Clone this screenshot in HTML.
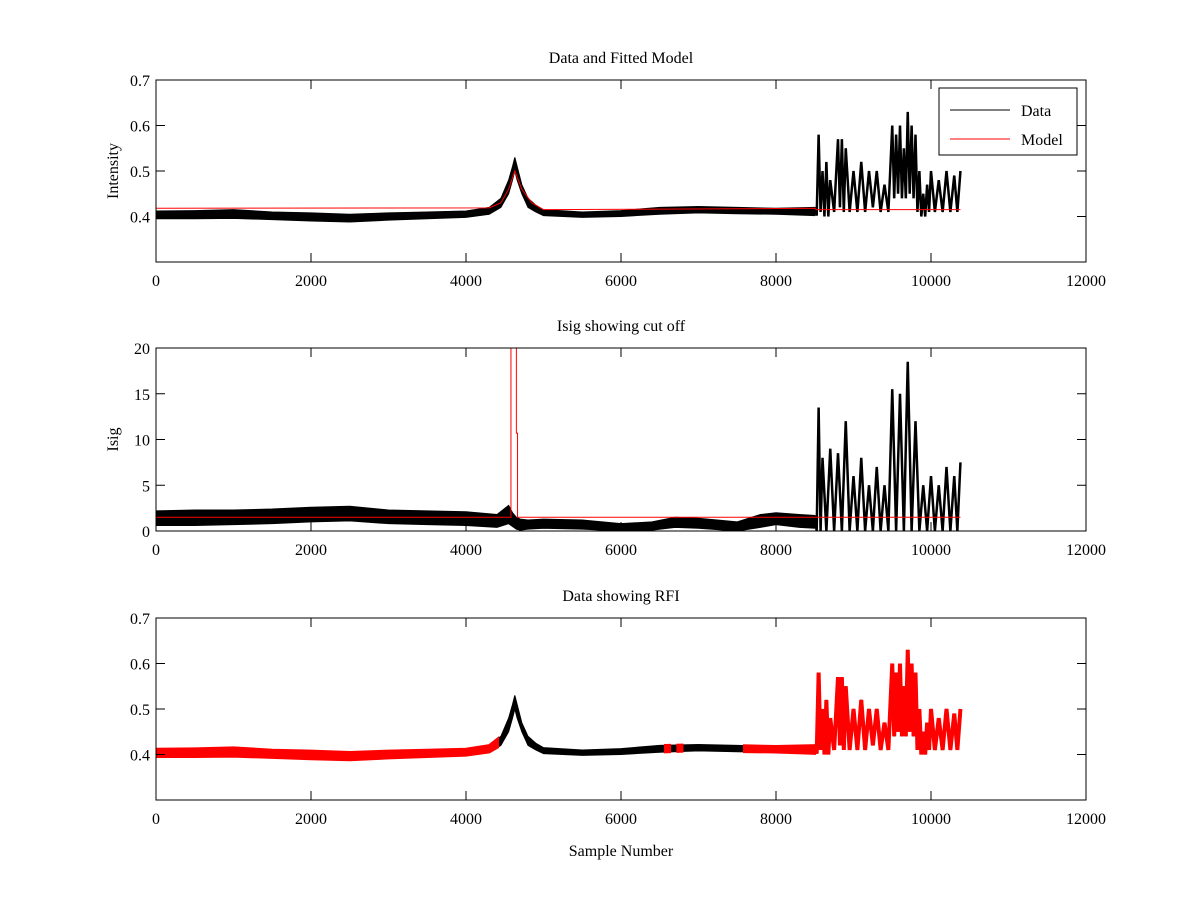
<!DOCTYPE html>
<html><head><meta charset="utf-8"><style>
body{margin:0;background:#fff}
svg{display:block;font-family:"Liberation Serif",serif}
</style></head><body>
<svg id="fig" width="1200" height="900"></svg>
<script>
// ---- data ----
const intensX=[0,500,1000,1500,2000,2500,3000,3500,4000,4300,4450,4550,4600,4630,4660,4720,4800,4900,5000,5500,6000,6500,7000,7500,8000,8500,8550,8600,8650,8700,8800,8850,8900,9000,9100,9200,9300,9400,9500,9550,9600,9650,9700,9750,9800,9850,9900,9950,10000,10100,10200,10300,10380];
const intensHi=[.412,.413,.415,.41,.408,.405,.408,.41,.412,.42,.44,.48,.51,.53,.51,.47,.44,.425,.415,.41,.413,.42,.422,.42,.418,.42,.58,.5,.52,.48,.57,.57,.55,.5,.52,.5,.5,.47,.6,.58,.6,.55,.63,.6,.58,.5,.45,.47,.5,.48,.5,.49,.5];
const intensLo=[.395,.395,.396,.393,.39,.388,.392,.395,.398,.405,.42,.45,.48,.5,.48,.45,.42,.41,.402,.398,.4,.405,.408,.406,.405,.402,.41,.42,.4,.41,.42,.43,.41,.42,.41,.42,.42,.41,.44,.45,.47,.44,.48,.45,.44,.41,.4,.41,.41,.41,.42,.41,.42];
const modelX=[0,4300,4450,4550,4630,4720,4850,5000,8500,8520,10380];
const modelY=[.418,.419,.43,.46,.50,.46,.43,.415,.418,.415,.415];
const isigX=[0,500,1000,1500,2000,2500,3000,3500,4000,4400,4550,4600,4650,4700,4800,5000,5500,6000,6400,6700,7000,7500,7800,8000,8300,8500,8550,8600,8700,8800,8900,9000,9100,9200,9300,9400,9500,9600,9700,9800,9900,10000,10100,10200,10300,10380];
const isigHi=[2.2,2.3,2.3,2.4,2.6,2.7,2.3,2.2,2.1,1.8,2.8,2.0,1.5,1.3,1.2,1.3,1.2,0.8,1.0,1.5,1.4,1.0,1.8,2.0,1.8,1.7,13.5,8,9,8.5,12,6,8,5,7,5,15.5,15,18.5,12,5,6,5,7,6,7.5];
const isigLo=[0.6,0.6,0.7,0.8,1.0,1.1,0.8,0.7,0.6,0.4,0.8,0.5,0.2,0.1,0.2,0.3,0.2,0,0.1,0.4,0.3,0,0.4,0.7,0.4,0.3,0,0,0,0,0,0,0,0,0,0,0,0,2,0,0,0,0,0,0,0];
const cutoffX=[0,4580,4580,4650,4650,4665,4665,10380];
const cutoffY=[1.5,1.5,25,25,10.7,10.7,1.5,1.5];
const rfiStart=[0,6580,6740,7600];
const rfiEnd=[4400,6620,6780,10380];
const xTicks=[0,2000,4000,6000,8000,10000,12000];
const yTicksI=[0.4,0.5,0.6,0.7];
const yTicksS=[0,5,10,15,20];
const calmEnd=8500;

// ---- drawing ----
const svg=document.getElementById('fig');
const NS='http://www.w3.org/2000/svg';
function mk(t,a,p){const e=document.createElementNS(NS,t);for(const k in a)e.setAttribute(k,a[k]);(p||svg).appendChild(e);return e;}
const L=156,R=1086;
const sx=v=>L+(v/12000)*(R-L);
function axes(top,bot,ymin,ymax,yt,fmt,title,ylabel,name){
  const sy=v=>bot-(v-ymin)/(ymax-ymin)*(bot-top);
  const g=mk('g',{});
  
  
  const cid='clip-'+name;
  const cp=mk('clipPath',{id:cid},g);mk('rect',{x:L,y:top,width:R-L,height:bot-top},cp);
  const plot=mk('g',{'clip-path':'url(#'+cid+')'},g);
  xTicks.forEach(t=>{const x=sx(t);
    mk('line',{x1:x,x2:x,y1:bot,y2:bot-9,stroke:'#000'},g);
    mk('line',{x1:x,x2:x,y1:top,y2:top+9,stroke:'#000'},g);
    const tx=mk('text',{x:x,y:bot+24,'text-anchor':'middle','font-size':16},g);tx.textContent=t;
    
    });
  yt.forEach(t=>{const y=sy(t);
    mk('line',{x1:L,x2:L+9,y1:y,y2:y,stroke:'#000'},g);
    mk('line',{x1:R,x2:R-9,y1:y,y2:y,stroke:'#000'},g);
    const tx=mk('text',{x:L-6,y:y+6,'text-anchor':'end','font-size':16},g);tx.textContent=fmt(t);
    
    });
  mk('rect',{x:L,y:top,width:R-L,height:bot-top,fill:'none',stroke:'#000'},g);
  const tt=mk('text',{x:(L+R)/2,y:top-17,'text-anchor':'middle','font-size':16},g);tt.textContent=title;
  
  
  if(ylabel){const yl=mk('text',{x:0,y:0,'text-anchor':'middle','font-size':16,transform:`translate(118,${(top+bot)/2}) rotate(-90)`},g);yl.textContent=ylabel;
    
    }
  return {sy,plot};
}
function band(p,xs,lo,hi,sy,color,w,name){
  const idx=xs.map((x,i)=>i).filter(i=>xs[i]<=calmEnd);
  let d='M'+idx.map(i=>sx(xs[i])+','+sy(hi[i])).join('L');
  for(let k=idx.length-1;k>=0;k--)d+='L'+sx(xs[idx[k]])+','+sy(lo[idx[k]]);
  const e=mk('path',{d:d+'Z',fill:color,stroke:color,'stroke-width':w},p);
  
  
  let z=[];
  for(let i=0;i<xs.length;i++){if(xs[i]<calmEnd)continue;
    z.push(sx(xs[i])+','+sy(hi[i]));
    if(i+1<xs.length){const xm=(xs[i]+xs[i+1])/2;z.push(sx(xm)+','+sy(Math.min(lo[i],lo[i+1])));}}
  const zz=mk('polyline',{points:z.join(' '),fill:'none',stroke:color,'stroke-width':w+1.5,'stroke-linejoin':'bevel'},p);
  
  
}
function line(p,xs,ys,sy,color,name){
  const e=mk('polyline',{points:xs.map((x,i)=>sx(x)+','+sy(ys[i])).join(' '),fill:'none',stroke:color,'stroke-width':1},p);
  
  
}
// Plot 1
const a1=axes(80,262,0.3,0.7,yTicksI,t=>t.toFixed(1),'Data and Fitted Model','Intensity','data-model-plot');
band(a1.plot,intensX,intensLo,intensHi,a1.sy,'#000',1,'data-series');
line(a1.plot,modelX,modelY,a1.sy,'#f00','model-series');
const lg=mk('g',{});


mk('rect',{x:939,y:88,width:138,height:67,fill:'#fff',stroke:'#000'},lg);
mk('line',{x1:950,x2:1010,y1:110,y2:110,stroke:'#000'},lg);
mk('line',{x1:950,x2:1010,y1:139,y2:139,stroke:'#f00'},lg);
const l1=mk('text',{x:1021,y:116,'font-size':16},lg);l1.textContent='Data';
const l2=mk('text',{x:1021,y:145,'font-size':16},lg);l2.textContent='Model';
// Plot 2
const a2=axes(348,531,0,20,yTicksS,t=>t,'Isig showing cut off','Isig','isig-plot');
band(a2.plot,isigX,isigLo,isigHi,a2.sy,'#000',1,'isig-series');
line(a2.plot,cutoffX,cutoffY,a2.sy,'#f00','cutoff-line');
// Plot 3
const a3=axes(618,800,0.3,0.7,yTicksI,t=>t.toFixed(1),'Data showing RFI','','rfi-plot');
band(a3.plot,intensX,intensLo,intensHi,a3.sy,'#000',1,'data-series');
const cp3=mk('clipPath',{id:'rficlip'});
rfiStart.forEach((s,i)=>mk('rect',{x:sx(s)-2,y:600,width:sx(rfiEnd[i])-sx(s)+4,height:220},cp3));
const rg=mk('g',{'clip-path':'url(#rficlip)'},a3.plot);
band(rg,intensX,intensLo,intensHi,a3.sy,'#f00',2.5,'rfi-markers');
const xl=mk('text',{x:(L+R)/2,y:856,'text-anchor':'middle','font-size':16});xl.textContent='Sample Number';


</script>
</body></html>
